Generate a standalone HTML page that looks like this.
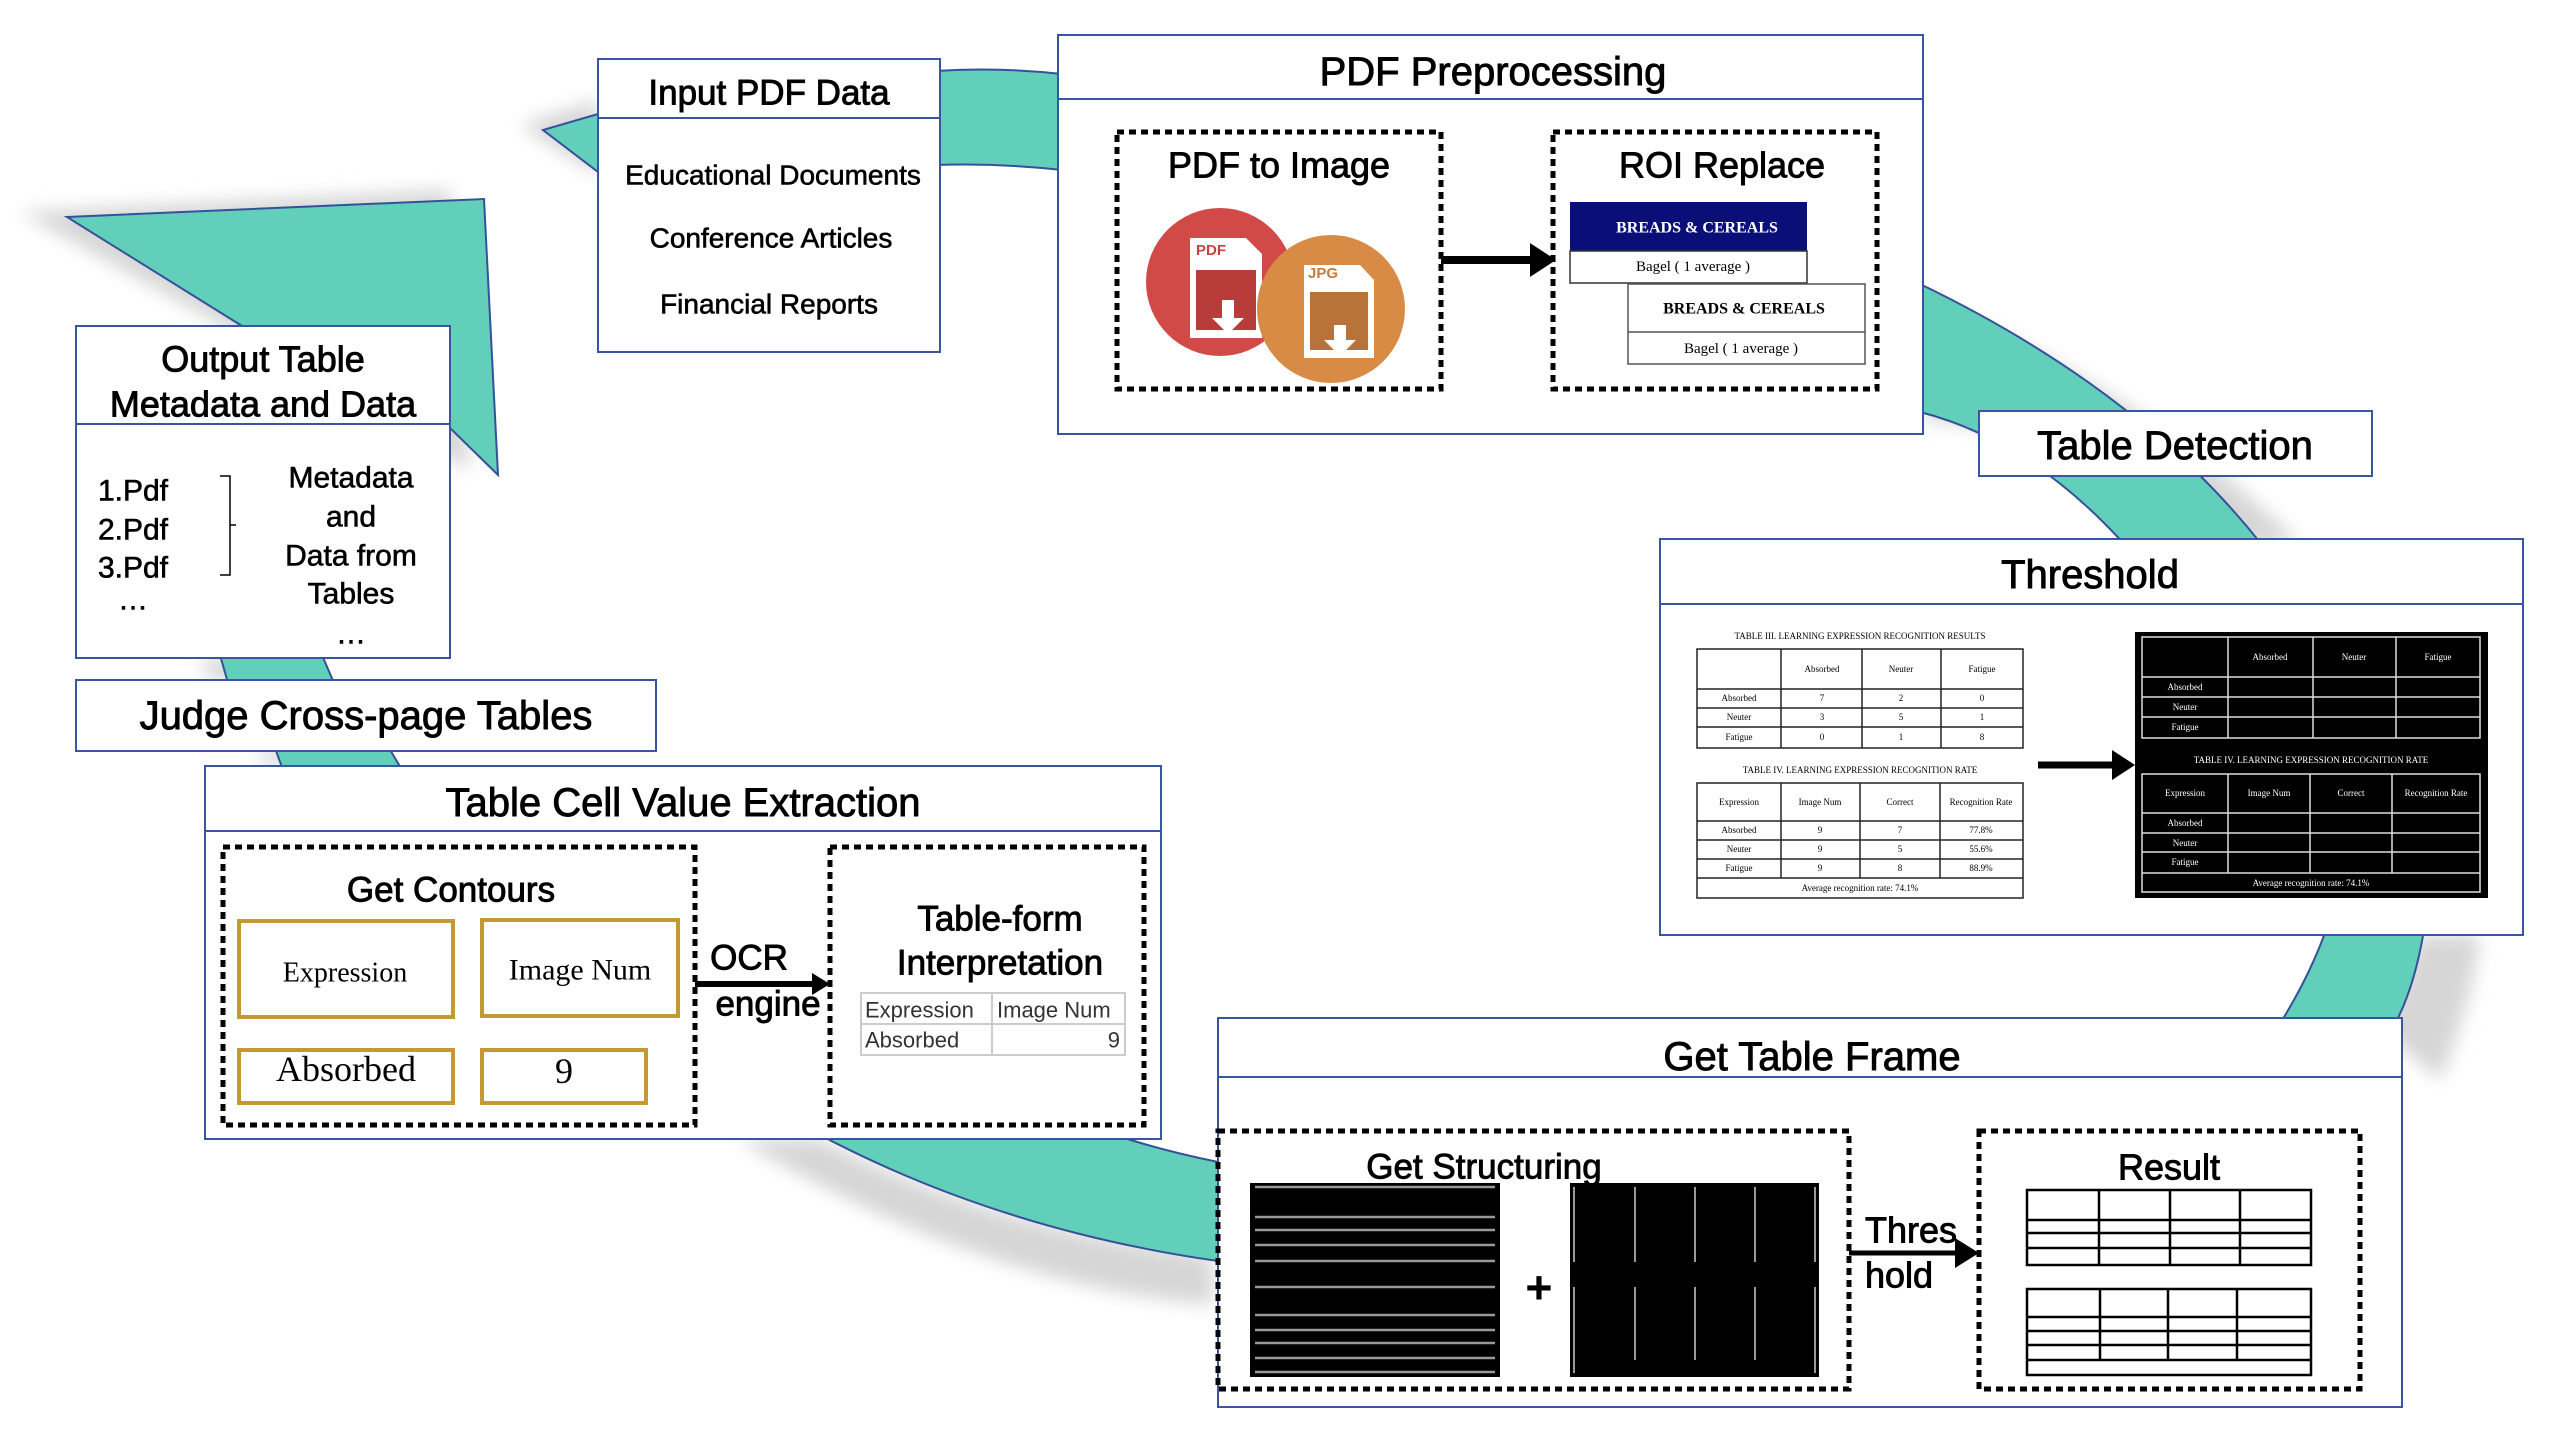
<!DOCTYPE html>
<html><head><meta charset="utf-8"><style>
html,body{margin:0;padding:0;background:#fff;}
svg{display:block;}
text{font-family:"Liberation Sans",sans-serif;fill:#000;}
.t{font-size:38px;text-anchor:middle;dominant-baseline:central;stroke:#000;stroke-width:0.9;}
.m{font-size:28px;text-anchor:middle;dominant-baseline:central;stroke:#000;stroke-width:0.6;}
.s{font-family:"Liberation Serif",serif;text-anchor:middle;dominant-baseline:central;}
.box{fill:#fff;stroke:#3a55a0;stroke-width:2;}
.hd{stroke:#3a55a0;stroke-width:2;}
.band{fill:#62cfba;stroke:#34519a;stroke-width:2;}
.dot{fill:none;stroke:#000;stroke-width:5;stroke-dasharray:7 5;}
</style></head><body>
<svg width="2570" height="1436" viewBox="0 0 2570 1436" xmlns="http://www.w3.org/2000/svg">
<defs><filter id="bl" x="-20%" y="-20%" width="140%" height="140%"><feGaussianBlur stdDeviation="9"/></filter></defs>

<g fill="#d6d6d6" filter="url(#bl)">
<polygon points="20,212 450,190 470,470 230,330"/>
<polygon points="520,125 598,100 598,175"/>
<path d="M1924,300 Q2160,400 2300,545 L2200,545 Q2060,430 1924,420 Z"/>
<path d="M2420,935 L2480,935 Q2470,1010 2440,1080 L2380,1030 Z"/>
<path d="M738,1139 Q980,1285 1213,1305 L1213,1255 Q1000,1230 820,1139Z"/>
<polygon points="200,658 300,658 310,680 210,680"/>
<polygon points="255,751 360,751 370,766 265,766"/>
</g>

<polygon class="band" points="67,217 484,199 498,475 450,428 450,326 242,326"/>
<polygon class="band" points="598,114 543,130 598,172"/>
<path class="band" d="M935,71 Q1000,67 1062,74 L1062,170 Q1000,163 935,165 Z"/>
<path class="band" d="M1920,284 Q2140,390 2262,545 L2125,545 Q2030,440 1920,412 Z"/>
<path class="band" d="M2326,930 L2424,930 Q2415,985 2396,1022 L2281,1022 Q2310,975 2326,930 Z"/>
<path class="band" d="M820,1135 Q1000,1230 1218,1261 L1218,1162 Q1160,1150 1115,1135 Z"/>
<polygon class="band" points="220,655 322,655 334,683 228,683"/>
<polygon class="band" points="275,748 389,748 402,770 283,770"/>

<rect class="box" x="598" y="59" width="342" height="293"/>
<line class="hd" x1="598" y1="118" x2="940" y2="118"/>
<text class="t" x="769" y="93" style="font-size:35px">Input PDF Data</text>
<text class="m" x="773" y="175">Educational Documents</text>
<text class="m" x="771" y="238">Conference Articles</text>
<text class="m" x="769" y="304">Financial Reports</text>

<rect class="box" x="1058" y="35" width="865" height="399"/>
<line class="hd" x1="1058" y1="99" x2="1923" y2="99"/>
<text class="t" x="1493" y="72" style="font-size:40px">PDF Preprocessing</text>
<rect class="dot" x="1117" y="132" width="324" height="257"/>
<text class="t" x="1279" y="165" style="font-size:36px">PDF to Image</text>
<circle cx="1220" cy="282" r="74" fill="#d14a48"/>
<path d="M1190,238 L1246,238 L1262,254 L1262,338 L1190,338 Z" fill="#fff"/>
<rect x="1196" y="270" width="60" height="60" fill="#b83c3a"/>
<text x="1196" y="255" style="font-size:15px;font-weight:bold;fill:#c8413f">PDF</text>
<polygon points="1222,300 1234,300 1234,318 1244,318 1228,334 1212,318 1222,318" fill="#fff"/>
<circle cx="1331" cy="309" r="74" fill="#d88b45"/>
<path d="M1304,265 L1360,265 L1374,280 L1374,358 L1304,358 Z" fill="#fff"/>
<rect x="1310" y="292" width="58" height="58" fill="#b8733a"/>
<text x="1308" y="278" style="font-size:15px;font-weight:bold;fill:#c87a3c">JPG</text>
<polygon points="1334,325 1346,325 1346,340 1356,340 1340,356 1324,340 1334,340" fill="#fff"/>
<line x1="1441" y1="260" x2="1535" y2="260" stroke="#000" stroke-width="8"/>
<polygon points="1530,243 1556,260 1530,277" fill="#000"/>
<rect class="dot" x="1553" y="132" width="324" height="257"/>
<text class="t" x="1722" y="165" style="font-size:36px">ROI Replace</text>
<rect x="1570" y="202" width="237" height="49" fill="#0a0f78"/>
<text class="s" x="1697" y="228" style="font-size:16px;font-weight:bold;fill:#fff">BREADS &amp; CEREALS</text>
<rect x="1570" y="251" width="237" height="32" fill="#fff" stroke="#333" stroke-width="1.5"/>
<text class="s" x="1693" y="267" style="font-size:15px">Bagel ( 1 average )</text>
<rect x="1628" y="284" width="237" height="80" fill="#fff" stroke="#555" stroke-width="1.5"/>
<line x1="1628" y1="332" x2="1865" y2="332" stroke="#555" stroke-width="1.5"/>
<text class="s" x="1744" y="309" style="font-size:16px;font-weight:bold">BREADS &amp; CEREALS</text>
<text class="s" x="1741" y="349" style="font-size:15px">Bagel ( 1 average )</text>

<rect class="box" x="1979" y="411" width="393" height="65"/>
<text class="t" x="2175" y="446" style="font-size:40px">Table Detection</text>

<rect class="box" x="1660" y="539" width="863" height="396"/>
<line class="hd" x1="1660" y1="604" x2="2523" y2="604"/>
<text class="t" x="2090" y="575" style="font-size:40px">Threshold</text>
<g stroke="#222" stroke-width="1.5" fill="none">
<rect x="1697" y="649" width="326" height="99"/>
<line x1="1781" y1="649" x2="1781" y2="748"/><line x1="1862" y1="649" x2="1862" y2="748"/><line x1="1941" y1="649" x2="1941" y2="748"/>
<line x1="1697" y1="689" x2="2023" y2="689"/><line x1="1697" y1="708" x2="2023" y2="708"/><line x1="1697" y1="727" x2="2023" y2="727"/>
<rect x="1697" y="783" width="326" height="115"/>
<line x1="1781" y1="783" x2="1781" y2="878"/><line x1="1860" y1="783" x2="1860" y2="878"/><line x1="1940" y1="783" x2="1940" y2="878"/>
<line x1="1697" y1="821" x2="2023" y2="821"/><line x1="1697" y1="840" x2="2023" y2="840"/><line x1="1697" y1="859" x2="2023" y2="859"/><line x1="1697" y1="878" x2="2023" y2="878"/>
</g>
<g>
<text class="s" x="1860" y="636" style="font-size:9px">TABLE III. LEARNING EXPRESSION RECOGNITION RESULTS</text>
<text class="s" x="1822" y="669" style="font-size:9px">Absorbed</text><text class="s" x="1901" y="669" style="font-size:9px">Neuter</text><text class="s" x="1982" y="669" style="font-size:9px">Fatigue</text>
<text class="s" x="1739" y="698" style="font-size:9px">Absorbed</text><text class="s" x="1822" y="698" style="font-size:9px">7</text><text class="s" x="1901" y="698" style="font-size:9px">2</text><text class="s" x="1982" y="698" style="font-size:9px">0</text>
<text class="s" x="1739" y="717" style="font-size:9px">Neuter</text><text class="s" x="1822" y="717" style="font-size:9px">3</text><text class="s" x="1901" y="717" style="font-size:9px">5</text><text class="s" x="1982" y="717" style="font-size:9px">1</text>
<text class="s" x="1739" y="737" style="font-size:9px">Fatigue</text><text class="s" x="1822" y="737" style="font-size:9px">0</text><text class="s" x="1901" y="737" style="font-size:9px">1</text><text class="s" x="1982" y="737" style="font-size:9px">8</text>
<text class="s" x="1860" y="770" style="font-size:9px">TABLE IV. LEARNING EXPRESSION RECOGNITION RATE</text>
<text class="s" x="1739" y="802" style="font-size:9px">Expression</text><text class="s" x="1820" y="802" style="font-size:9px">Image Num</text><text class="s" x="1900" y="802" style="font-size:9px">Correct</text><text class="s" x="1981" y="802" style="font-size:9px">Recognition Rate</text>
<text class="s" x="1739" y="830" style="font-size:9px">Absorbed</text><text class="s" x="1820" y="830" style="font-size:9px">9</text><text class="s" x="1900" y="830" style="font-size:9px">7</text><text class="s" x="1981" y="830" style="font-size:9px">77.8%</text>
<text class="s" x="1739" y="849" style="font-size:9px">Neuter</text><text class="s" x="1820" y="849" style="font-size:9px">9</text><text class="s" x="1900" y="849" style="font-size:9px">5</text><text class="s" x="1981" y="849" style="font-size:9px">55.6%</text>
<text class="s" x="1739" y="868" style="font-size:9px">Fatigue</text><text class="s" x="1820" y="868" style="font-size:9px">9</text><text class="s" x="1900" y="868" style="font-size:9px">8</text><text class="s" x="1981" y="868" style="font-size:9px">88.9%</text>
<text class="s" x="1860" y="888" style="font-size:9px">Average recognition rate: 74.1%</text>
</g>
<line x1="2038" y1="765" x2="2115" y2="765" stroke="#000" stroke-width="7"/>
<polygon points="2112,750 2135,765 2112,780" fill="#000"/>
<rect x="2135" y="632" width="353" height="266" fill="#000"/>
<g stroke="#ddd" stroke-width="1.5" fill="none">
<rect x="2142" y="637" width="338" height="101"/>
<line x1="2228" y1="637" x2="2228" y2="738"/><line x1="2313" y1="637" x2="2313" y2="738"/><line x1="2396" y1="637" x2="2396" y2="738"/>
<line x1="2142" y1="677" x2="2480" y2="677"/><line x1="2142" y1="697" x2="2480" y2="697"/><line x1="2142" y1="717" x2="2480" y2="717"/>
<rect x="2142" y="774" width="338" height="118"/>
<line x1="2228" y1="774" x2="2228" y2="873"/><line x1="2310" y1="774" x2="2310" y2="873"/><line x1="2392" y1="774" x2="2392" y2="873"/>
<line x1="2142" y1="813" x2="2480" y2="813"/><line x1="2142" y1="833" x2="2480" y2="833"/><line x1="2142" y1="852" x2="2480" y2="852"/><line x1="2142" y1="873" x2="2480" y2="873"/>
</g>
<g>
<text class="s" x="2270" y="657" style="font-size:9px;fill:#fff">Absorbed</text><text class="s" x="2354" y="657" style="font-size:9px;fill:#fff">Neuter</text><text class="s" x="2438" y="657" style="font-size:9px;fill:#fff">Fatigue</text>
<text class="s" x="2185" y="687" style="font-size:9px;fill:#fff">Absorbed</text><text class="s" x="2185" y="707" style="font-size:9px;fill:#fff">Neuter</text><text class="s" x="2185" y="727" style="font-size:9px;fill:#fff">Fatigue</text>
<text class="s" x="2311" y="760" style="font-size:9px;fill:#fff">TABLE IV. LEARNING EXPRESSION RECOGNITION RATE</text>
<text class="s" x="2185" y="793" style="font-size:9px;fill:#fff">Expression</text><text class="s" x="2269" y="793" style="font-size:9px;fill:#fff">Image Num</text><text class="s" x="2351" y="793" style="font-size:9px;fill:#fff">Correct</text><text class="s" x="2436" y="793" style="font-size:9px;fill:#fff">Recognition Rate</text>
<text class="s" x="2185" y="823" style="font-size:9px;fill:#fff">Absorbed</text><text class="s" x="2185" y="843" style="font-size:9px;fill:#fff">Neuter</text><text class="s" x="2185" y="862" style="font-size:9px;fill:#fff">Fatigue</text>
<text class="s" x="2311" y="883" style="font-size:9px;fill:#fff">Average recognition rate: 74.1%</text>
</g>

<rect class="box" x="76" y="326" width="374" height="332"/>
<line class="hd" x1="76" y1="424" x2="450" y2="424"/>
<text class="t" x="263" y="359" style="font-size:36px">Output Table</text>
<text class="t" x="263" y="404" style="font-size:36px">Metadata and Data</text>
<text class="m" x="133" y="491" style="font-size:30px">1.Pdf</text>
<text class="m" x="133" y="530" style="font-size:30px">2.Pdf</text>
<text class="m" x="133" y="568" style="font-size:30px">3.Pdf</text>
<text class="m" x="133" y="600" style="font-size:30px">…</text>
<path d="M220,476 L230,476 L230,525 L236,525 M230,525 L230,575 L220,575" fill="none" stroke="#000" stroke-width="1.5"/>
<text class="m" x="351" y="478" style="font-size:30px">Metadata</text>
<text class="m" x="351" y="517" style="font-size:30px">and</text>
<text class="m" x="351" y="556" style="font-size:30px">Data from</text>
<text class="m" x="351" y="594" style="font-size:30px">Tables</text>
<text class="m" x="351" y="634" style="font-size:30px">…</text>

<rect class="box" x="76" y="680" width="580" height="71"/>
<text class="t" x="366" y="716" style="font-size:40px">Judge Cross-page Tables</text>

<rect class="box" x="205" y="766" width="956" height="373"/>
<line class="hd" x1="205" y1="831" x2="1161" y2="831"/>
<text class="t" x="683" y="803" style="font-size:40px">Table Cell Value Extraction</text>
<rect class="dot" x="223" y="847" width="472" height="278"/>
<text class="t" x="451" y="890" style="font-size:35px">Get Contours</text>
<g fill="none" stroke="#c39a32" stroke-width="4">
<rect x="239" y="921" width="214" height="96"/>
<rect x="482" y="920" width="196" height="96"/>
<rect x="239" y="1050" width="214" height="53"/>
<rect x="482" y="1050" width="164" height="53"/>
</g>
<text class="s" x="345" y="973" style="font-size:28px">Expression</text>
<text class="s" x="580" y="970" style="font-size:30px">Image Num</text>
<text class="s" x="346" y="1069" style="font-size:36px">Absorbed</text>
<text class="s" x="564" y="1071" style="font-size:36px">9</text>
<text class="t" x="749" y="958" style="font-size:35px">OCR</text>
<text class="t" x="768" y="1004" style="font-size:35px">engine</text>
<line x1="695" y1="984" x2="815" y2="984" stroke="#000" stroke-width="6"/>
<polygon points="812,973 830,984 812,995" fill="#000"/>
<rect class="dot" x="830" y="847" width="314" height="278"/>
<text class="t" x="1000" y="919" style="font-size:35px">Table-form</text>
<text class="t" x="1000" y="963" style="font-size:35px">Interpretation</text>
<g stroke="#ccc" stroke-width="2" fill="none">
<rect x="861" y="993" width="264" height="62"/><line x1="992" y1="993" x2="992" y2="1055"/><line x1="861" y1="1024" x2="1125" y2="1024"/>
</g>
<text x="865" y="1010" style="font-size:22px;dominant-baseline:central;fill:#333">Expression</text>
<text x="997" y="1010" style="font-size:22px;dominant-baseline:central;fill:#333">Image Num</text>
<text x="865" y="1040" style="font-size:22px;dominant-baseline:central;fill:#333">Absorbed</text>
<text x="1120" y="1040" style="font-size:22px;dominant-baseline:central;text-anchor:end;fill:#333">9</text>

<rect class="box" x="1218" y="1018" width="1184" height="389"/>
<line class="hd" x1="1218" y1="1077" x2="2402" y2="1077"/>
<text class="t" x="1812" y="1057" style="font-size:40px">Get Table Frame</text>
<rect class="dot" x="1218" y="1131" width="631" height="258"/>
<text class="t" x="1484" y="1167" style="font-size:35px">Get Structuring</text>
<rect x="1250" y="1183" width="250" height="194" fill="#000"/>
<g stroke="#999" stroke-width="2.5">
<line x1="1255" y1="1187" x2="1495" y2="1187"/><line x1="1255" y1="1217" x2="1495" y2="1217"/><line x1="1255" y1="1230" x2="1495" y2="1230"/><line x1="1255" y1="1245" x2="1495" y2="1245"/><line x1="1255" y1="1261" x2="1495" y2="1261"/><line x1="1255" y1="1287" x2="1495" y2="1287"/><line x1="1255" y1="1315" x2="1495" y2="1315"/><line x1="1255" y1="1330" x2="1495" y2="1330"/><line x1="1255" y1="1343" x2="1495" y2="1343"/><line x1="1255" y1="1358" x2="1495" y2="1358"/><line x1="1255" y1="1372" x2="1495" y2="1372"/>
</g>
<text class="t" x="1539" y="1288" style="font-size:44px;stroke-width:2">+</text>
<rect x="1570" y="1183" width="249" height="194" fill="#000"/>
<g stroke="#999" stroke-width="2">
<line x1="1574" y1="1187" x2="1574" y2="1262"/><line x1="1635" y1="1187" x2="1635" y2="1262"/><line x1="1695" y1="1187" x2="1695" y2="1262"/><line x1="1755" y1="1187" x2="1755" y2="1262"/><line x1="1815" y1="1187" x2="1815" y2="1262"/>
<line x1="1574" y1="1287" x2="1574" y2="1373"/><line x1="1635" y1="1287" x2="1635" y2="1360"/><line x1="1695" y1="1287" x2="1695" y2="1360"/><line x1="1755" y1="1287" x2="1755" y2="1360"/><line x1="1815" y1="1287" x2="1815" y2="1373"/>
</g>
<text x="1865" y="1230" style="font-size:36px;dominant-baseline:central;stroke:#000;stroke-width:0.9">Thres</text>
<text x="1865" y="1275" style="font-size:36px;dominant-baseline:central;stroke:#000;stroke-width:0.9">hold</text>
<line x1="1849" y1="1253" x2="1960" y2="1253" stroke="#000" stroke-width="5"/>
<polygon points="1955,1238 1979,1253 1955,1268" fill="#000"/>
<rect class="dot" x="1979" y="1131" width="381" height="258"/>
<text class="t" x="2169" y="1167" style="font-size:36px">Result</text>
<g stroke="#000" stroke-width="2.5" fill="none">
<rect x="2027" y="1190" width="284" height="75"/>
<line x1="2099" y1="1190" x2="2099" y2="1265"/><line x1="2170" y1="1190" x2="2170" y2="1265"/><line x1="2240" y1="1190" x2="2240" y2="1265"/>
<line x1="2027" y1="1220" x2="2311" y2="1220"/><line x1="2027" y1="1233" x2="2311" y2="1233"/><line x1="2027" y1="1248" x2="2311" y2="1248"/>
<rect x="2027" y="1289" width="284" height="86"/>
<line x1="2100" y1="1289" x2="2100" y2="1360"/><line x1="2168" y1="1289" x2="2168" y2="1360"/><line x1="2237" y1="1289" x2="2237" y2="1360"/>
<line x1="2027" y1="1317" x2="2311" y2="1317"/><line x1="2027" y1="1331" x2="2311" y2="1331"/><line x1="2027" y1="1345" x2="2311" y2="1345"/><line x1="2027" y1="1360" x2="2311" y2="1360"/>
</g>
</svg>
</body></html>
